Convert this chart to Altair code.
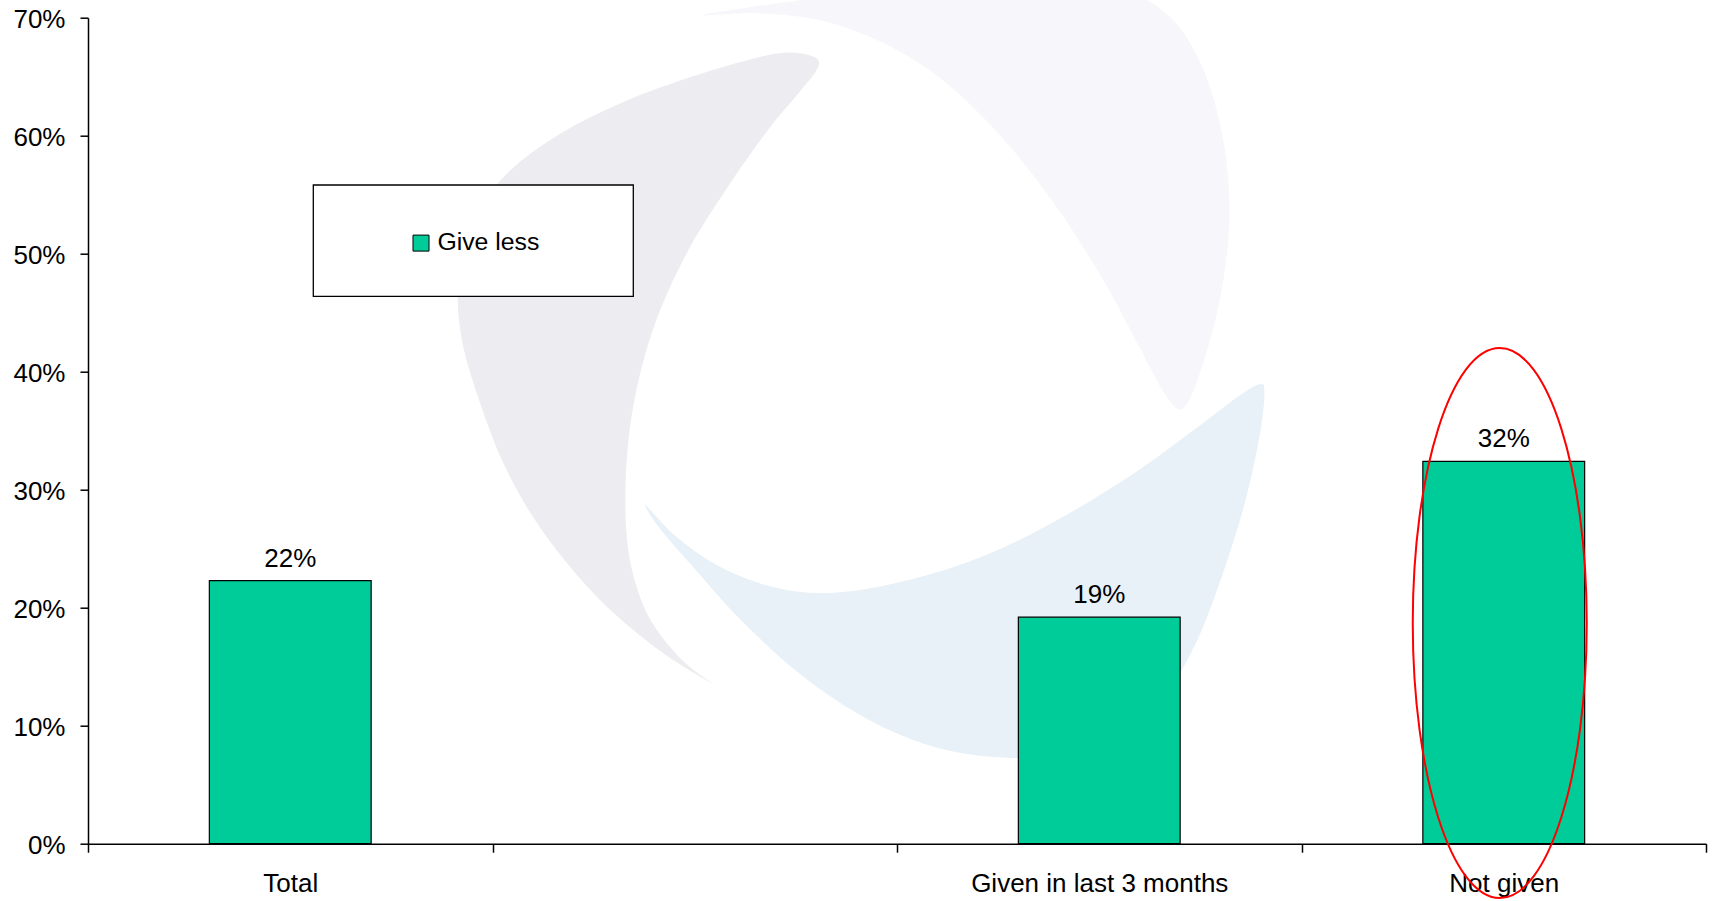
import altair as alt
import pandas as pd

# ---------------- data ----------------
categories = ["Total", "", "Given in last 3 months", "Not given"]
bar_categories = ["Total", "Given in last 3 months", "Not given"]
give_less = [0.223, 0.192, 0.324]
series_name = "Give less"
y_ticks = [0.0, 0.1, 0.2, 0.3, 0.4, 0.5, 0.6, 0.7]
highlight_category = ["Not given"]
highlight_center = [0.187]

# ---------------- style ----------------
GREEN = "#00CC99"
FONT = "Liberation Sans"
PAD_L, PAD_T, PAD_R, PAD_B = 88, 17.7, 15, 57.3
W, H = 1618, 826
K = 1721 / 1568.0  # reference sketch scale

# decorative background logo (outline sketch, page pixels of the reference thumbnail)
logo_left = [(742, 52), (715, 48), (680, 55), (630, 70), (570, 92), (510, 122), (462, 158),
             (432, 200), (418, 255), (420, 305), (435, 360), (460, 425), (495, 485),
             (545, 545), (600, 592), (648, 622), (620, 600), (590, 560), (573, 505),
             (570, 440), (577, 370), (595, 300), (625, 232), (662, 172), (700, 118),
             (730, 82), (745, 62)]
logo_top = [(640, 14), (680, 7), (730, 0), (800, -10), (900, -20), (1000, -15), (1060, 10),
            (1095, 60), (1115, 130), (1120, 200), (1112, 270), (1095, 335), (1078, 372),
            (1062, 360), (1040, 320), (1005, 255), (960, 185), (910, 122), (855, 70),
            (800, 37), (745, 18), (690, 12)]
logo_blue = [(588, 460), (615, 488), (655, 516), (705, 535), (760, 540), (830, 528),
             (900, 505), (970, 470), (1035, 430), (1090, 390), (1130, 360), (1148, 350),
             (1152, 358), (1148, 395), (1135, 455), (1115, 520), (1090, 585), (1060, 635),
             (1020, 668), (970, 688), (910, 690), (850, 680), (790, 655), (730, 615),
             (675, 565), (630, 515), (600, 480)]


def smooth_path(pts):
    p = [(x * K, y * K) for x, y in pts]
    n = len(p)
    d = "M %.1f %.1f" % p[0]
    for i in range(n):
        p0, p1, p2, p3 = p[i - 1], p[i], p[(i + 1) % n], p[(i + 2) % n]
        c1 = (p1[0] + (p2[0] - p0[0]) / 6, p1[1] + (p2[1] - p0[1]) / 6)
        c2 = (p2[0] - (p3[0] - p1[0]) / 6, p2[1] - (p3[1] - p1[1]) / 6)
        d += " C %.1f %.1f %.1f %.1f %.1f %.1f" % (c1 + c2 + p2)
    return d + " Z"


df = pd.DataFrame({"cat": bar_categories, "value": give_less, "series": series_name})
one = pd.DataFrame({"k": [0]})
hl = pd.DataFrame({"cat": highlight_category, "value": highlight_center})

x_scale = alt.Scale(domain=categories, paddingInner=0, paddingOuter=0)
y_scale = alt.Scale(domain=[0, 0.7], nice=False, zero=True)

x_enc = alt.X("cat:N", scale=x_scale, sort=categories, title=None,
              axis=alt.Axis(tickBand="extent", labelAngle=0, tickSize=8.5, labelPadding=18,
                            labelLimit=400, grid=False, labelOverlap=False))
y_enc = alt.Y("value:Q", scale=y_scale, title=None,
              axis=alt.Axis(values=y_ticks, format=".0%", tickSize=8, labelPadding=15,
                            grid=False, labelOffset=2))

logo_layers = []
for pts, col in [(logo_left, "#edecf1"), (logo_top, "#f7f6fa"), (logo_blue, "#e8f1f7")]:
    logo_layers.append(
        alt.Chart(one).mark_point(shape=smooth_path(pts), filled=True, fill=col, opacity=1,
                                  strokeWidth=0, size=4)
        .encode(x=alt.value(-PAD_L), y=alt.value(-PAD_T))
    )

bars = alt.Chart(df).mark_bar(stroke="black", strokeWidth=1.2,
                              width=alt.RelativeBandSize(0.4)).encode(
    x=x_enc, y=y_enc,
    color=alt.Color("series:N", scale=alt.Scale(domain=[series_name], range=[GREEN]),
                    legend=alt.Legend(orient="none", legendX=320.6, legendY=213, title=None,
                                      symbolType="square", symbolSize=256,
                                      symbolStrokeColor="black", symbolStrokeWidth=1,
                                      labelFont=FONT, labelFontSize=24.8, labelColor="black",
                                      labelOffset=4, padding=0)),
)

labels = alt.Chart(df).mark_text(baseline="alphabetic", dy=-14, fontSize=26, font=FONT,
                                 color="black").encode(
    x=x_enc, y=y_enc, text=alt.Text("value:Q", format=".0%"))

legend_box = alt.Chart(one).mark_rect(fill="white", stroke="black", strokeWidth=1.3).encode(
    x=alt.value(225.3), x2=alt.value(545.3), y=alt.value(167.3), y2=alt.value(278.6))

ellipse = alt.Chart(hl).mark_point(
    shape="M -87 0 A 87 275 0 1 1 87 0 A 87 275 0 1 1 -87 0 Z",
    size=4, filled=False, stroke="red", strokeWidth=2, opacity=1, xOffset=-4).encode(
    x=x_enc, y=y_enc)

chart = alt.layer(*logo_layers, bars, labels, legend_box, ellipse).properties(
    width=W, height=H,
    autosize=alt.AutoSizeParams(type="none"),
    padding={"left": PAD_L, "top": PAD_T, "right": PAD_R, "bottom": PAD_B},
    background="white",
).configure_view(stroke=None).configure_axis(
    domainColor="black", domainWidth=1.5, tickColor="black", tickWidth=1.5,
    labelFont=FONT, labelFontSize=26, labelColor="black",
)

chart.save("out.html", embed_options={"renderer": "svg", "actions": False})
